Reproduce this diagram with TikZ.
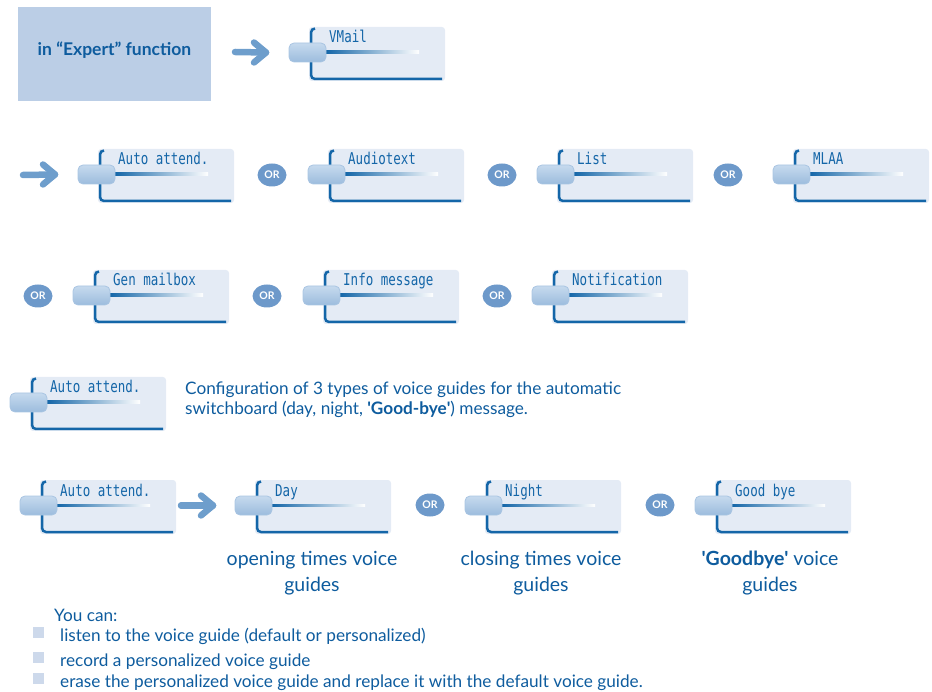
\documentclass[tikz,border=0pt]{standalone}
\usepackage{fontspec}
\setmainfont{Lato}
\newfontfamily\lcdfont{DejaVu Sans Mono}
\usetikzlibrary{shapes.geometric,calc}
\definecolor{boxblue}{HTML}{BBCEE6}
\definecolor{txtblue}{HTML}{0E5C9E}
\definecolor{panelfill}{HTML}{E4EBF5}
\definecolor{panelline}{HTML}{1466A8}
\definecolor{btntop}{HTML}{C6DAEE}
\definecolor{btnbot}{HTML}{9CBCDD}
\definecolor{btnedge}{HTML}{A9C5E2}
\definecolor{arrowc}{HTML}{6E9ECC}
\definecolor{orfill}{HTML}{6D99CA}
\definecolor{bulletc}{HTML}{CDD9EB}
\tikzset{
  panelbox/.style={fill=panelfill, rounded corners=3pt, inner sep=0pt, outer sep=0pt,
    minimum width=136pt, minimum height=54pt, anchor=north west},
  keybtn/.style={rounded corners=5pt, top color=btntop, bottom color=btnbot, draw=btnedge,
    line width=0.8pt, minimum width=37pt, minimum height=19pt, inner sep=0pt, outer sep=0pt},
  keylabel/.style={anchor=base west, inner sep=0pt, text=panelline,
    font=\lcdfont\fontsize{12.5}{13}\selectfont},
  ornode/.style={ellipse, fill=orfill, text=white, font=\bfseries\fontsize{10.5}{10.5}\selectfont,
    minimum width=29pt, minimum height=23pt, inner sep=0pt},
  bigarrow/.style={draw=arrowc, line width=6.5pt, line cap=round, line join=round},
  desc/.style={text=txtblue, inner sep=0pt, font=\fontsize{17.2}{20}\selectfont},
  caption/.style={text=txtblue, inner sep=0pt, align=center, anchor=north,
    font=\fontsize{19.5}{26}\selectfont},
  bulletsq/.style={fill=bulletc, minimum size=11pt, inner sep=0pt},
}
\newcommand\keyw[4]{%
  \node[panelbox] (#1) at (#2,#3) {};
  \draw[panelline, line width=2.5pt, rounded corners=4pt]
    (#2+6,#3+1.5) -- (#2+2,#3+1.5) -- (#2+2,#3+52) -- (#2+133,#3+52);
  \shade[left color=panelline, right color=white] (#2+17,#3+24) rectangle (#2+110,#3+26.5);
  \node[keybtn] (#1b) at (#2-1.5,#3+25.5) {};
  \node[keylabel] (#1t) at (#2+20,#3+16) {\scalebox{1}[1.3]{#4}};
}
\newcommand\bigarr[2]{%
  \draw[bigarrow] (#1) -- (#2);
  \draw[bigarrow] ($(#2)+(-12,-10)$) -- (#2) -- ($(#2)+(-12,10)$);
}
\begin{document}
\begin{tikzpicture}[x=1pt,y=-1pt]
\useasboundingbox (0,0) rectangle (932,692);

% header
\fill[boxblue] (18,7) rectangle (211,101);
\node[text=txtblue, inner sep=0pt, font=\bfseries\fontsize{17.5}{17.5}\selectfont] (expert) at (114.5,50)
  {in “Expert” function};
\keyw{vm}{309}{27}{VMail}
\coordinate (a0s) at (235,52);
\coordinate (a0e) at ($(vmb.west)+(-23,0)$);
\bigarr{a0s}{a0e}

% row 1
\keyw{aa}{98}{149}{Auto attend.}
\keyw{at}{328}{149}{Audiotext}
\keyw{ls}{557}{149}{List}
\keyw{ml}{793}{149}{MLAA}
\coordinate (a1s) at (23,175);
\coordinate (a1e) at ($(aab.west)+(-23,0)$);
\bigarr{a1s}{a1e}
\node[ornode] (or1) at (272,175) {OR};
\node[ornode] (or2) at (502,175) {OR};
\node[ornode] (or3) at (728,175) {OR};

% row 2
\keyw{gm}{93}{270}{Gen mailbox}
\keyw{im}{323}{270}{Info message}
\keyw{nt}{552}{270}{Notification}
\node[ornode] (or4) at (38,296) {OR};
\node[ornode] (or5) at (267,296) {OR};
\node[ornode] (or6) at (497,296) {OR};

% row 3
\keyw{ab}{30}{377}{Auto attend.}
\node[desc, anchor=base west] (cfg1) at (185,395)
  {Configuration of 3 types of voice guides for the automatic};
\node[desc, anchor=base west] (cfg2) at (185,415)
  {switchboard (day, night, \textbf{\textquotesingle Good-bye\textquotesingle}) message.};

% row 4
\keyw{ac}{40}{480}{Auto attend.}
\keyw{dy}{255}{480}{Day}
\keyw{ng}{485}{480}{Night}
\keyw{gb}{715}{480}{Good bye}
\coordinate (a4s) at ($(ac.east |- dyb.west)+(5,0)$);
\coordinate (a4e) at ($(dyb.west)+(-22,0)$);
\bigarr{a4s}{a4e}
\node[ornode] (or7) at (430,505) {OR};
\node[ornode] (or8) at (660,505) {OR};
\node[caption] (c1) at (312,551) {opening times voice\\guides};
\node[caption] (c2) at (541,551) {closing times voice\\guides};
\node[caption] (c3) at (770,551) {\textbf{\textquotesingle Goodbye\textquotesingle} voice\\guides};

% list
\node[desc, anchor=base west] (you) at (54,621) {You can:};
\node[bulletsq] (b1) at (38.5,632) {};
\node[bulletsq] (b2) at (38.5,657) {};
\node[bulletsq] (b3) at (38.5,678) {};
\node[desc, anchor=base west] (l1) at (60,641) {listen to the voice guide (default or personalized)};
\node[desc, anchor=base west] (l2) at (60,666) {record a personalized voice guide};
\node[desc, anchor=base west] (l3) at (60,687) {erase the personalized voice guide and replace it with the default voice guide.};
\end{tikzpicture}
\end{document}
